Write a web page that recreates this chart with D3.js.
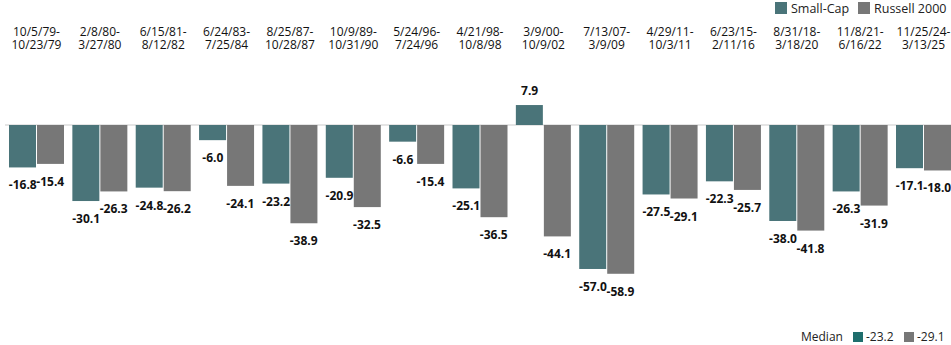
<!DOCTYPE html>
<html>
<head>
<meta charset="utf-8">
<script src="https://cdn.jsdelivr.net/npm/d3@7"></script>
<style>
  html, body { margin: 0; padding: 0; background: #fff; }
  svg { display: block; font-family: "Open Sans", "Lato", sans-serif; }
</style>
</head>
<body>
<svg id="chart" width="951" height="345"></svg>
<script>
const periodStart = ["10/5/79-","2/8/80-","6/15/81-","6/24/83-","8/25/87-","10/9/89-","5/24/96-","4/21/98-","3/9/00-","7/13/07-","4/29/11-","6/23/15-","8/31/18-","11/8/21-","11/25/24-"];
const periodEnd = ["10/23/79","3/27/80","8/12/82","7/25/84","10/28/87","10/31/90","7/24/96","10/8/98","10/9/02","3/9/09","10/3/11","2/11/16","3/18/20","6/16/22","3/13/25"];
const seriesNames = ["Small-Cap", "Russell 2000"];
const smallCap = [-16.8,-30.1,-24.8,-6.0,-23.2,-20.9,-6.6,-25.1,7.9,-57.0,-27.5,-22.3,-38.0,-26.3,-17.1];
const russell = [-15.4,-26.3,-26.2,-24.1,-38.9,-32.5,-15.4,-36.5,-44.1,-58.9,-29.1,-25.7,-41.8,-31.9,-18.0];
const medianLabel = "Median";
const medians = [-23.2, -29.1];

const colors = ["#4a7479", "#777777"];
const medianColors = ["#1f6e6d", "#777777"];

const svg = d3.select("#chart");
const W = 951, H = 345;

const keys = periodStart.map((d, i) => i);
const x0 = d3.scaleBand().domain(keys).range([9, 951]).paddingInner(0.132).paddingOuter(0);
const x1 = d3.scaleBand().domain(seriesNames).range([0, x0.bandwidth()]).padding(0);
const y = d3.scaleLinear().domain([-60, 10]).range([125 + 60 * 2.526, 125 - 10 * 2.526]);

// zero line
svg.append("line")
  .attr("x1", 5).attr("x2", W)
  .attr("y1", y(0)).attr("y2", y(0))
  .attr("stroke", "#dddddd").attr("stroke-width", 1.5);

const data = keys.map(i => ({ i, vals: [smallCap[i], russell[i]] }));

const g = svg.append("g");
const groups = g.selectAll("g.grp").data(data).join("g")
  .attr("class", "grp")
  .attr("transform", d => `translate(${x0(d.i)},0)`);

groups.selectAll("rect").data(d => d.vals.map((v, k) => ({ v, k })))
  .join("rect")
  .attr("x", d => x1(seriesNames[d.k]) + (d.k === 1 ? 0.5 : 0))
  .attr("width", x1.bandwidth() - 0.5)
  .attr("y", d => Math.min(y(0), y(d.v)))
  .attr("height", d => Math.abs(y(d.v) - y(0)))
  .attr("fill", d => colors[d.k]);

groups.selectAll("text.val").data(d => d.vals.map((v, k) => ({ v, k })))
  .join("text")
  .attr("class", "val")
  .attr("x", d => x1(seriesNames[d.k]) + x1.bandwidth() / 2)
  .attr("y", d => d.v < 0 ? y(d.v) + 22 : y(d.v) - 10)
  .attr("text-anchor", "middle")
  .attr("font-size", 12)
  .attr("font-weight", 700)
  .attr("fill", "#111")
  .text(d => d.v.toFixed(1));

// category labels
const cat = svg.append("g");
keys.forEach(i => {
  const cx = x0(i) + x0.bandwidth() / 2;
  const t = cat.append("text")
    .attr("text-anchor", "middle")
    .attr("font-size", 12)
    .attr("fill", "#111");
  t.append("tspan").attr("x", cx).attr("y", 36).text(periodStart[i]);
  t.append("tspan").attr("x", cx).attr("y", 49).text(periodEnd[i]);
});

// top legend
const leg = svg.append("g");
const legItems = [
  { name: seriesNames[0], color: colors[0], x: 775 },
  { name: seriesNames[1], color: colors[1], x: 858 }
];
legItems.forEach(it => {
  leg.append("rect").attr("x", it.x).attr("y", 2).attr("width", 12).attr("height", 12).attr("fill", it.color);
  leg.append("text").attr("x", it.x + 16).attr("y", 13).attr("font-size", 12.5).attr("fill", "#222").text(it.name);
});

// median legend
const med = svg.append("g");
med.append("text").attr("x", 801).attr("y", 341).attr("font-size", 12).attr("fill", "#222").text(medianLabel);
const medX = [853, 904];
medians.forEach((m, k) => {
  med.append("rect").attr("x", medX[k]).attr("y", 332).attr("width", 10).attr("height", 10).attr("fill", medianColors[k]);
  med.append("text").attr("x", medX[k] + 13).attr("y", 341).attr("font-size", 12).attr("fill", "#222").text(m.toFixed(1));
});
</script>
</body>
</html>
